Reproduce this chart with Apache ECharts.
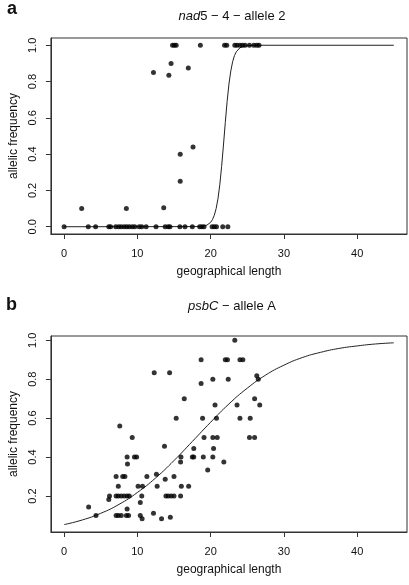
<!DOCTYPE html>
<html>
<head>
<meta charset="utf-8">
<script src="https://cdn.jsdelivr.net/npm/echarts@6/dist/echarts.min.js"></script>
<style>
html,body{margin:0;padding:0;background:#fff;}
#c{width:409px;height:585px;}
</style>
</head>
<body>
<div id="c"></div>
<script>
// ---- Panel a: nad5-4 allele 2 ----
const aPointsX = [14.8, 15.05, 15.3, 18.6, 21.9, 22.2, 23.3, 23.6, 24.0, 24.35, 24.7, 25.3, 25.9, 26.3, 26.6,
  12.2, 14.3, 14.6, 16.95, 15.85, 17.6, 15.85, 2.4, 8.5, 13.6,
  0.0, 3.3, 4.3, 6.1, 6.35, 7.05, 7.45, 7.8, 8.2, 8.55, 8.9, 9.3, 9.65, 10.25, 10.6, 11.2, 12.55, 13.8, 14.2, 14.45,
  15.8, 16.5, 17.5, 18.5, 18.8, 19.1, 20.2, 20.5, 20.8, 21.65, 22.35];
const aPointsY = [1, 1, 1, 1, 1, 1, 1, 1, 1, 1, 1, 1, 1, 1, 1,
  0.85, 0.835, 0.90, 0.875, 0.40, 0.44, 0.25, 0.10, 0.10, 0.105,
  0, 0, 0, 0, 0, 0, 0, 0, 0, 0, 0, 0, 0, 0, 0, 0, 0, 0, 0, 0,
  0, 0, 0, 0, 0, 0, 0, 0, 0, 0, 0];
const aCurveX = [0, 18, 19, 19.5, 20, 20.25, 20.5, 20.75, 21, 21.25, 21.5, 21.75, 22, 22.25, 22.5, 22.75, 23, 23.25, 23.5, 24, 24.5, 25, 26, 45];
const aCurveY = [0, 0.0008, 0.0033, 0.009, 0.024, 0.039, 0.063, 0.100, 0.154, 0.231, 0.332, 0.450, 0.574, 0.690, 0.786, 0.858, 0.909, 0.943, 0.964, 0.986, 0.995, 0.998, 1.0, 1.0];

// ---- Panel b: psbC allele A ----
const bPointsX = [23.3,
  18.7, 22.0, 22.3, 24.0, 24.4,
  12.3, 14.4, 18.7, 20.3, 22.4, 26.3, 26.5,
  16.4, 26.0, 20.6, 23.6, 26.7,
  15.3, 18.9, 20.8, 24.0, 25.4, 7.6,
  9.3, 19.1, 20.3, 20.9, 25.3, 26.0,
  13.7, 17.7, 20.4,
  8.6, 9.6, 9.9, 15.95, 17.5, 17.7, 19.0, 20.3,
  15.9, 8.65, 21.8, 19.6,
  7.1, 8.0, 8.3, 11.3, 15.0, 12.6, 13.8,
  7.4, 10.1, 10.7, 12.7, 16.0, 17.0,
  6.2, 6.1, 7.1, 7.4, 7.8, 8.2, 8.6, 8.9, 10.6, 13.9, 14.2, 14.6, 15.0, 15.9,
  8.6, 10.4, 3.35, 4.35,
  7.1, 7.4, 7.8, 8.5, 8.8, 10.4, 10.65, 12.2, 13.3, 14.5];
const bPointsY = [1.0,
  0.90, 0.90, 0.90, 0.90, 0.90,
  0.833, 0.833, 0.778, 0.80, 0.80, 0.818, 0.80,
  0.70, 0.70, 0.667, 0.667, 0.667,
  0.60, 0.60, 0.60, 0.60, 0.60, 0.56,
  0.50, 0.50, 0.50, 0.50, 0.50, 0.50,
  0.455, 0.444, 0.444,
  0.40, 0.40, 0.40, 0.40, 0.40, 0.40, 0.40, 0.40,
  0.375, 0.364, 0.375, 0.333,
  0.30, 0.30, 0.30, 0.30, 0.30, 0.312, 0.286,
  0.25, 0.25, 0.25, 0.25, 0.25, 0.25,
  0.20, 0.182, 0.20, 0.20, 0.20, 0.20, 0.20, 0.20, 0.20, 0.20, 0.20, 0.20, 0.20, 0.20,
  0.133, 0.167, 0.143, 0.10,
  0.10, 0.10, 0.10, 0.10, 0.10, 0.10, 0.083, 0.111, 0.083, 0.091];
const bCurveX = [0, 2.5, 5, 7.5, 10, 12.5, 15, 17.5, 20, 22.5, 25, 27.5, 30, 32.5, 35, 37.5, 40, 42.5, 45];
const bCurveY = [0.053, 0.077, 0.111, 0.157, 0.218, 0.293, 0.382, 0.480, 0.579, 0.673, 0.754, 0.821, 0.872, 0.911, 0.938, 0.958, 0.971, 0.981, 0.987];

const xTicks = [0, 10, 20, 30, 40];
const aYTicks = [0, 0.2, 0.4, 0.6, 0.8, 1.0];
const bYTicks = [0.2, 0.4, 0.6, 0.8, 1.0];

const FONT = '"Liberation Sans", Arial, Helvetica, sans-serif';
const zip = (xs, ys) => xs.map((x, i) => [x, ys[i]]);

function xAxisDef(gi) {
  return {
    type: 'value', gridIndex: gi, min: -1.8, max: 46.8,
    name: 'geographical length', nameLocation: 'middle', nameGap: 32,
    nameTextStyle: { fontFamily: FONT, fontSize: 12, color: '#111' },
    axisLine: { show: true, onZero: false, lineStyle: { color: '#333', width: 1 } },
    axisTick: { show: true, customValues: xTicks, length: 5, lineStyle: { color: '#333' } },
    axisLabel: { customValues: xTicks, margin: 14, fontFamily: FONT, fontSize: 11, color: '#111',
      formatter: v => String(v) },
    splitLine: { show: false }
  };
}
function yAxisDef(gi, min, max, ticks) {
  return {
    type: 'value', gridIndex: gi, min: min, max: max,
    name: 'allelic frequency', nameLocation: 'middle', nameGap: 30, nameRotate: 90,
    nameTextStyle: { fontFamily: FONT, fontSize: 12, color: '#111' },
    axisLine: { show: true, onZero: false, lineStyle: { color: '#333', width: 1 } },
    axisTick: { show: true, customValues: ticks, length: 5, lineStyle: { color: '#333' } },
    axisLabel: { customValues: ticks, rotate: 90, margin: 12, fontFamily: FONT, fontSize: 11, color: '#111',
      formatter: v => v.toFixed(1) },
    splitLine: { show: false }
  };
}

const chart = echarts.init(document.getElementById('c'), null, { renderer: 'canvas' });
chart.setOption({
  animation: false,
  backgroundColor: '#fff',
  title: [
    { text: 'a', left: 2, top: -5, textStyle: { fontFamily: FONT, fontSize: 18, fontWeight: 'bold', color: '#111' } },
    { text: 'b', left: 1, top: 291, textStyle: { fontFamily: FONT, fontSize: 18, fontWeight: 'bold', color: '#111' } },
    { text: '{i|nad}5 − 4 − allele 2', left: 227, top: 5, textAlign: 'center',
      textStyle: { fontFamily: FONT, fontSize: 13, fontWeight: 'normal', color: '#111',
        rich: { i: { fontFamily: FONT, fontSize: 13, fontStyle: 'italic', color: '#111' } } } },
    { text: '{i|psbC} − allele A', left: 227, top: 295, textAlign: 'center',
      textStyle: { fontFamily: FONT, fontSize: 13, fontWeight: 'normal', color: '#111',
        rich: { i: { fontFamily: FONT, fontSize: 13, fontStyle: 'italic', color: '#111' } } } }
  ],
  grid: [
    { left: 48, right: 2, top: 38, height: 196, show: true, borderColor: '#333', borderWidth: 1, backgroundColor: 'transparent' },
    { left: 48, right: 2, top: 336, height: 196, show: true, borderColor: '#333', borderWidth: 1, backgroundColor: 'transparent' }
  ],
  xAxis: [xAxisDef(0), xAxisDef(1)],
  yAxis: [yAxisDef(0, -0.04, 1.04, aYTicks), yAxisDef(1, 0.015, 1.022, bYTicks)],
  series: [
    { type: 'line', xAxisIndex: 0, yAxisIndex: 0, data: zip(aCurveX, aCurveY), showSymbol: false, smooth: false,
      lineStyle: { color: '#222', width: 1 }, z: 2 },
    { type: 'scatter', xAxisIndex: 0, yAxisIndex: 0, data: zip(aPointsX, aPointsY), symbolSize: 5,
      itemStyle: { color: '#000' }, z: 3 },
    { type: 'line', xAxisIndex: 1, yAxisIndex: 1, data: zip(bCurveX, bCurveY), showSymbol: false, smooth: true,
      lineStyle: { color: '#222', width: 1 }, z: 2 },
    { type: 'scatter', xAxisIndex: 1, yAxisIndex: 1, data: zip(bPointsX, bPointsY), symbolSize: 5,
      itemStyle: { color: '#000' }, z: 3 }
  ]
});
</script>
</body>
</html>
